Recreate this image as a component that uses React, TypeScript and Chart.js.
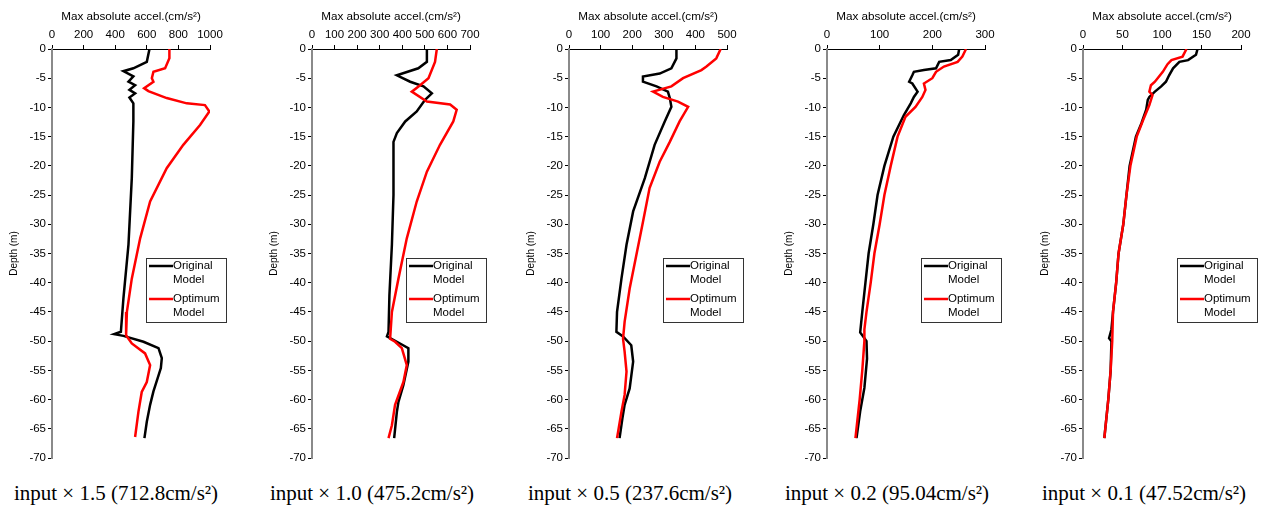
import React, { useEffect, useRef } from "react";
import { Chart, registerables } from "chart.js";

Chart.register(...registerables);

// ---------- data ----------
const xTitle = "Max absolute accel.(cm/s²)";
const yTitle = "Depth (m)";
const seriesNames = ["Original", "Optimum"];
const captions = [
  "input × 1.5 (712.8cm/s²)",
  "input × 1.0 (475.2cm/s²)",
  "input × 0.5 (237.6cm/s²)",
  "input × 0.2 (95.04cm/s²)",
  "input × 0.1 (47.52cm/s²)",
];
const xMax = [1000, 700, 500, 300, 200];
const xStep = [200, 100, 100, 100, 50];

// panel 1
const orig1Depth = [0, -2.2, -3.3, -3.8, -4.7, -5.6, -6.2, -7.0, -7.6, -8.3, -9.3, -12.4, -22.1, -33.5, -42.7, -48.4, -48.8, -49.1, -50.1, -51.2, -52.9, -54.6, -58.6, -60.9, -63.8, -66.6];
const orig1Accel = [617, 600, 515, 452, 515, 484, 526, 490, 526, 490, 515, 515, 505, 484, 452, 436, 394, 452, 579, 674, 695, 689, 642, 621, 600, 585];
const opt1Depth = [0, -1.6, -3.3, -3.9, -5.0, -5.6, -6.7, -7.2, -8.4, -9.3, -9.6, -10.7, -13.0, -16.4, -20.4, -26.1, -32.4, -39.3, -45.0, -49.0, -50.4, -52.1, -54.1, -57.0, -58.7, -62.1, -66.4];
const opt1Accel = [743, 743, 716, 642, 632, 642, 583, 610, 726, 853, 968, 996, 937, 831, 726, 621, 558, 505, 474, 469, 505, 589, 621, 600, 568, 547, 526];

// panel 2
const orig2Depth = [0, -2.2, -3.3, -4.5, -5.6, -6.4, -7.6, -8.7, -10.7, -12.4, -14.4, -15.9, -25.0, -33.5, -42.1, -48.4, -49.2, -50.1, -51.2, -53.5, -57.5, -60.4, -62.1, -66.6];
const orig2Accel = [509, 509, 471, 376, 435, 494, 531, 501, 464, 413, 376, 361, 361, 354, 343, 339, 332, 376, 427, 427, 405, 383, 376, 364];
const opt2Depth = [0, -2.2, -5.0, -6.2, -7.3, -9.0, -9.5, -10.4, -12.4, -16.4, -21.0, -26.1, -32.4, -39.3, -45.0, -49.6, -50.1, -51.2, -54.1, -57.0, -60.9, -64.4, -66.6];
const opt2Accel = [553, 545, 516, 479, 442, 509, 612, 641, 626, 567, 509, 464, 420, 383, 354, 346, 368, 398, 420, 405, 368, 354, 339];

// panel 3
const orig3Depth = [0, -1.6, -3.3, -4.2, -4.7, -5.6, -6.4, -7.3, -8.4, -9.9, -12.4, -16.4, -22.1, -27.8, -33.5, -39.3, -45.0, -48.4, -49.2, -50.7, -53.5, -58.1, -60.9, -63.2, -66.6];
const orig3Accel = [340, 340, 324, 287, 234, 234, 277, 313, 319, 324, 303, 271, 240, 203, 182, 166, 152, 150, 171, 197, 203, 192, 176, 169, 160];
const opt3Depth = [0, -1.6, -3.0, -3.6, -5.0, -6.4, -7.3, -8.2, -9.0, -9.9, -12.4, -15.9, -19.3, -23.8, -29.6, -35.3, -41.0, -46.7, -49.6, -51.8, -55.2, -59.2, -62.1, -66.6];
const opt3Accel = [480, 466, 435, 419, 361, 324, 266, 297, 345, 377, 350, 319, 287, 255, 234, 213, 192, 176, 171, 176, 182, 176, 166, 152];

// panel 4
const orig4Depth = [0, -1.0, -1.9, -2.2, -3.3, -3.6, -3.9, -4.5, -5.6, -5.9, -7.3, -8.2, -9.3, -11.3, -15, -20, -25, -30, -35, -40, -45, -48.5, -49, -50, -53, -58, -62, -66.6];
const orig4Accel = [251, 249, 235, 213, 207, 184, 165, 162, 156, 162, 172, 165, 159, 146, 126, 109, 96, 88, 79, 73, 67, 63, 67, 75, 76, 71, 63, 56];
const opt4Depth = [0, -1.3, -2.2, -3.0, -3.9, -5.0, -5.9, -7.0, -8.2, -9.9, -11.6, -15, -20, -25, -30, -35, -40, -45, -48, -50, -55, -60, -66.6];
const opt4Accel = [264, 257, 248, 222, 207, 200, 184, 187, 181, 168, 149, 134, 121, 109, 100, 90, 83, 75, 71, 71, 67, 62, 54];

// panel 5
const orig5Depth = [0, -1.0, -1.9, -2.2, -3.3, -4.5, -5.6, -6.4, -7.3, -8.2, -8.7, -10.4, -12.7, -15, -20, -25, -30, -35, -40, -45, -48, -49.5, -50, -55, -60, -66.6];
const orig5Accel = [145, 143, 133, 122, 114, 109, 105, 99, 91, 84, 82, 80, 74, 67, 59, 55, 51, 45, 42, 38, 36, 33, 36, 35, 32, 27];
const opt5Depth = [0, -1.3, -1.9, -2.6, -3.9, -5.6, -6.2, -7.3, -7.9, -9.6, -12.2, -15, -20, -25, -30, -35, -40, -45, -50, -55, -60, -66.6];
const opt5Accel = [131, 126, 112, 107, 101, 91, 86, 84, 88, 84, 76, 68, 60, 55, 51, 45, 42, 38, 37, 35, 32, 27];

const origDepths = [orig1Depth, orig2Depth, orig3Depth, orig4Depth, orig5Depth];
const origAccels = [orig1Accel, orig2Accel, orig3Accel, orig4Accel, orig5Accel];
const optDepths = [opt1Depth, opt2Depth, opt3Depth, opt4Depth, opt5Depth];
const optAccels = [opt1Accel, opt2Accel, opt3Accel, opt4Accel, opt5Accel];

// ---------- layout ----------
const panelLeft = [0, 260, 517, 775, 1031];
const captionCenter = [116, 372, 630, 887, 1144];
const CW = 230;
const CH = 470;
const FONT = "'Liberation Sans', Arial, sans-serif";

const toPoints = (xs: number[], ys: number[]) => xs.map((x, i) => ({ x, y: ys[i] }));

const boxLegend = {
  id: "boxLegend",
  afterDraw(chart: any) {
    const ctx = chart.ctx as CanvasRenderingContext2D;
    const x = 146, y = 258, w = 80, h = 64;
    ctx.save();
    ctx.fillStyle = "#fff";
    ctx.fillRect(x, y, w, h);
    ctx.strokeStyle = "#333";
    ctx.lineWidth = 1;
    ctx.strokeRect(x + 0.5, y + 0.5, w, h);
    const items = [
      { color: "#000", ly: 266, lines: [seriesNames[0], "Model"] },
      { color: "#ff0000", ly: 299, lines: [seriesNames[1], "Model"] },
    ];
    ctx.font = `11.5px ${FONT}`;
    ctx.textBaseline = "middle";
    ctx.textAlign = "left";
    for (const it of items) {
      ctx.strokeStyle = it.color;
      ctx.lineWidth = 2.5;
      ctx.beginPath();
      ctx.moveTo(149, it.ly);
      ctx.lineTo(173, it.ly);
      ctx.stroke();
      ctx.fillStyle = "#000";
      ctx.fillText(it.lines[0], 173, it.ly);
      ctx.fillText(it.lines[1], 173, it.ly + 14);
    }
    ctx.restore();
  },
};

function Panel({ idx }: { idx: number }) {
  const ref = useRef<HTMLCanvasElement | null>(null);
  useEffect(() => {
    if (!ref.current) return;
    const chart = new Chart(ref.current, {
      type: "scatter",
      data: {
        datasets: [
          {
            label: seriesNames[1],
            data: toPoints(optAccels[idx], optDepths[idx]),
            showLine: true,
            borderColor: "#ff0000",
            borderWidth: 2.5,
            pointRadius: 0,
            tension: 0,
          },
          {
            label: seriesNames[0],
            data: toPoints(origAccels[idx], origDepths[idx]),
            showLine: true,
            borderColor: "#000000",
            borderWidth: 2.5,
            pointRadius: 0,
            tension: 0,
          },
        ],
      },
      options: {
        animation: false,
        responsive: false,
        devicePixelRatio: 1,
        layout: { padding: { top: 0, right: CW - 210, bottom: CH - 458, left: 0 } },
        plugins: { legend: { display: false }, tooltip: { enabled: false } },
        scales: {
          x: {
            type: "linear",
            position: "top",
            min: 0,
            max: xMax[idx],
            ticks: {
              stepSize: xStep[idx],
              color: "#000",
              font: { family: FONT, size: 11.5 },
              padding: 3,
              maxRotation: 0,
              autoSkip: false,
              callback: (v: any) => String(v),
            },
            grid: { drawOnChartArea: false, color: "#000", tickLength: 4 },
            border: { display: true, color: "#000", width: 1 },
            title: {
              display: true,
              text: xTitle,
              color: "#000",
              font: { family: FONT, size: 11.7 },
              padding: { top: 10, bottom: 0 },
            },
            afterFit: (s: any) => {
              s.height = 49;
            },
          },
          y: {
            type: "linear",
            min: -70,
            max: 0,
            ticks: {
              stepSize: 5,
              color: "#000",
              font: { family: FONT, size: 11.5 },
              padding: 2,
              autoSkip: false,
              callback: (v: any) => String(v),
            },
            grid: { drawOnChartArea: false, color: "#000", tickLength: 4 },
            border: { display: true, color: "#8a8a8a", width: 2 },
            title: {
              display: true,
              text: yTitle,
              color: "#000",
              font: { family: FONT, size: 10 },
              padding: { top: 8, bottom: 0 },
            },
            afterFit: (s: any) => {
              s.width = 52;
            },
          },
        },
      },
      plugins: [boxLegend],
    } as any);
    return () => chart.destroy();
  }, [idx]);
  return (
    <>
      <canvas
        ref={ref}
        width={CW}
        height={CH}
        style={{ position: "absolute", left: panelLeft[idx], top: 0, width: CW, height: CH, display: "block" }}
      />
      <div
        style={{
          position: "absolute",
          left: captionCenter[idx] - 125,
          width: 250,
          top: 480,
          textAlign: "center",
          fontFamily: "'Liberation Serif', 'Times New Roman', serif",
          fontSize: 21,
          lineHeight: "26px",
          color: "#000",
          whiteSpace: "nowrap",
        }}
      >
        {captions[idx]}
      </div>
    </>
  );
}

export default function App() {
  return (
    <div style={{ position: "fixed", left: 0, top: 0, width: 1261, height: 510, background: "#fff", overflow: "hidden" }}>
      {[0, 1, 2, 3, 4].map((i) => (
        <Panel key={i} idx={i} />
      ))}
    </div>
  );
}
